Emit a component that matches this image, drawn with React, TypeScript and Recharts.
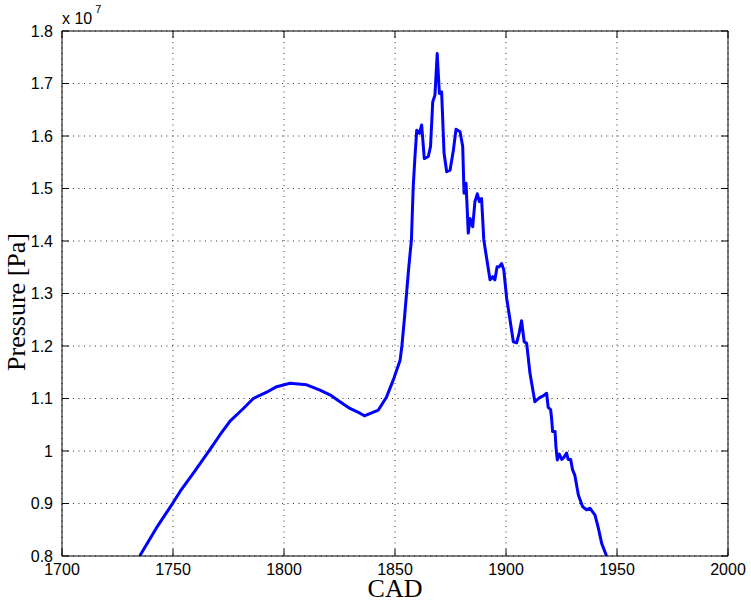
import React from 'react';
import { LineChart, Line, XAxis, YAxis, CartesianGrid } from 'recharts';

const cad = [
  1735.0, 1742.6, 1749.8, 1753.2, 1759.9, 1766.7, 1771.2, 1775.7, 1781.7, 1786.2,
  1792.2, 1796.7, 1802.7, 1810.2, 1816.2, 1820.7, 1825.2, 1829.7, 1834.2, 1836.2,
  1842.5, 1846.2, 1849.2, 1852.3, 1853.1, 1854.2, 1855.2, 1856.2, 1857.4, 1858.2,
  1859.0, 1859.8, 1861.0, 1862.0, 1863.2, 1865.0, 1866.0, 1867.0, 1868.0, 1869.0,
  1870.0, 1871.0, 1872.1, 1873.3, 1874.8, 1876.3, 1877.5, 1879.3, 1880.5, 1881.1,
  1882.0, 1883.0, 1883.8, 1885.0, 1886.0, 1887.1, 1888.0, 1889.0, 1890.0, 1892.8,
  1894.0, 1895.0, 1896.0, 1897.0, 1898.0, 1899.0, 1900.3, 1901.8, 1903.3, 1904.8,
  1905.9, 1907.0, 1908.2, 1909.3, 1910.8, 1913.0, 1915.3, 1916.8, 1918.3, 1919.0,
  1920.1, 1920.6, 1921.0, 1922.1, 1922.5, 1923.1, 1924.0, 1925.1, 1926.1, 1927.3,
  1928.0, 1929.1, 1930.0, 1931.0, 1932.6, 1934.5, 1936.3, 1937.8, 1940.1, 1941.6,
  1943.1, 1945.3,
];

const pressure = [
  0.800, 0.854, 0.900, 0.923, 0.962, 1.003, 1.031, 1.057, 1.081, 1.100,
  1.112, 1.1225, 1.129, 1.126, 1.116, 1.107, 1.094, 1.081, 1.072, 1.067,
  1.078, 1.103, 1.135, 1.173, 1.200, 1.250, 1.300, 1.350, 1.402, 1.503,
  1.561, 1.611, 1.605, 1.621, 1.557, 1.561, 1.580, 1.665, 1.678, 1.757,
  1.681, 1.684, 1.567, 1.532, 1.535, 1.573, 1.613, 1.608, 1.580, 1.491,
  1.510, 1.415, 1.443, 1.427, 1.475, 1.490, 1.475, 1.481, 1.402, 1.326,
  1.332, 1.326, 1.351, 1.351, 1.357, 1.345, 1.291, 1.250, 1.208, 1.206,
  1.224, 1.248, 1.208, 1.205, 1.148, 1.094, 1.102, 1.105, 1.110, 1.083,
  1.079, 1.059, 1.037, 1.037, 1.008, 0.983, 0.994, 0.984, 0.988, 0.996,
  0.984, 0.984, 0.964, 0.954, 0.916, 0.894, 0.888, 0.891, 0.878, 0.853,
  0.824, 0.800,
];

const xTicks = [1700, 1750, 1800, 1850, 1900, 1950, 2000];
const yTicks = [0.8, 0.9, 1.0, 1.1, 1.2, 1.3, 1.4, 1.5, 1.6, 1.7, 1.8];
const xLabel = 'CAD';
const yLabel = 'Pressure [Pa]';
const exponentBase = 'x 10';
const exponent = '7';

const data = cad.map((c, i) => ({ cad: c, p: pressure[i] }));

const SANS = '"Liberation Sans", Arial, Helvetica, sans-serif';
const SERIF = '"Liberation Serif", "Times New Roman", serif';
const TICK_LEN = 7;
const fmtY = (v: number) => String(+v.toFixed(1));

const BottomTick = (props: any) => {
  const { x, y, payload } = props;
  return (
    <g>
      <line x1={x} x2={x} y1={y} y2={y - TICK_LEN} stroke="#000" strokeWidth={1} />
      <text x={x} y={y + 18.5} textAnchor="middle" fontFamily={SANS} fontSize={16} fill="#000">
        {payload.value}
      </text>
    </g>
  );
};

const TopTick = (props: any) => {
  const { x, y } = props;
  return <line x1={x} x2={x} y1={y} y2={y + TICK_LEN} stroke="#000" strokeWidth={1} />;
};

const LeftTick = (props: any) => {
  const { x, y, payload } = props;
  return (
    <g>
      <line x1={x} x2={x + TICK_LEN} y1={y} y2={y} stroke="#000" strokeWidth={1} />
      <text x={x - 9} y={y + 5.5} textAnchor="end" fontFamily={SANS} fontSize={16} fill="#000">
        {fmtY(payload.value)}
      </text>
    </g>
  );
};

const RightTick = (props: any) => {
  const { x, y } = props;
  return <line x1={x} x2={x - TICK_LEN} y1={y} y2={y} stroke="#000" strokeWidth={1} />;
};

const YLabel = (props: any) => {
  const vb = props.viewBox || { x: 0, y: 31, width: 62, height: 525 };
  const bx = vb.x + 25;
  const by = vb.y + vb.height / 2 + 8.5;
  const ex = vb.x + vb.width;
  const ey = vb.y - 7;
  return (
    <g>
      <text
        x={bx}
        y={by}
        transform={`rotate(-90, ${bx}, ${by})`}
        textAnchor="middle"
        fontFamily={SERIF}
        fontSize={26}
        fill="#000"
      >
        {yLabel}
      </text>
      <text x={ex} y={ey} fontFamily={SANS} fontSize={16} fill="#000">
        {exponentBase}
        <tspan dx={3} dy={-11} fontSize={11}>
          {exponent}
        </tspan>
      </text>
    </g>
  );
};

const XLabel = (props: any) => {
  const vb = props.viewBox || { x: 62, y: 556, width: 666, height: 49 };
  return (
    <text
      x={vb.x + vb.width / 2}
      y={vb.y + 41}
      textAnchor="middle"
      fontFamily={SERIF}
      fontSize={26}
      fill="#000"
    >
      {xLabel}
    </text>
  );
};

export default function App() {
  return (
    <div style={{ position: 'absolute', left: 0, top: 0, width: 751, height: 605, background: '#fff' }}>
      <LineChart width={751} height={605} data={data} margin={{ top: 0, right: 0, bottom: 0, left: 0 }}>
        <CartesianGrid stroke="#333" strokeDasharray="1 4.5" strokeWidth={1} />
        <XAxis
          dataKey="cad"
          type="number"
          domain={[1700, 2000]}
          ticks={xTicks}
          interval={0}
          allowDataOverflow
          height={49}
          tickSize={0}
          tickMargin={0}
          tickLine={false}
          axisLine={{ stroke: '#000', strokeWidth: 1 }}
          tick={<BottomTick />}
          label={<XLabel />}
        />
        <XAxis
          xAxisId="top"
          orientation="top"
          dataKey="cad"
          type="number"
          domain={[1700, 2000]}
          ticks={xTicks}
          interval={0}
          allowDataOverflow
          height={31}
          tickSize={0}
          tickMargin={0}
          tickLine={false}
          axisLine={{ stroke: '#000', strokeWidth: 1 }}
          tick={<TopTick />}
        />
        <YAxis
          type="number"
          domain={[0.8, 1.8]}
          ticks={yTicks}
          interval={0}
          allowDataOverflow
          width={62}
          tickSize={0}
          tickMargin={0}
          tickLine={false}
          axisLine={{ stroke: '#000', strokeWidth: 1 }}
          tick={<LeftTick />}
          label={<YLabel />}
        />
        <YAxis
          yAxisId="right"
          orientation="right"
          type="number"
          domain={[0.8, 1.8]}
          ticks={yTicks}
          interval={0}
          allowDataOverflow
          width={23}
          tickSize={0}
          tickMargin={0}
          tickLine={false}
          axisLine={{ stroke: '#000', strokeWidth: 1 }}
          tick={<RightTick />}
        />
        <Line
          type="linear"
          dataKey="p"
          stroke="#0000ff"
          strokeWidth={3}
          dot={false}
          activeDot={false}
          isAnimationActive={false}
          strokeLinejoin="round"
        />
      </LineChart>
    </div>
  );
}
